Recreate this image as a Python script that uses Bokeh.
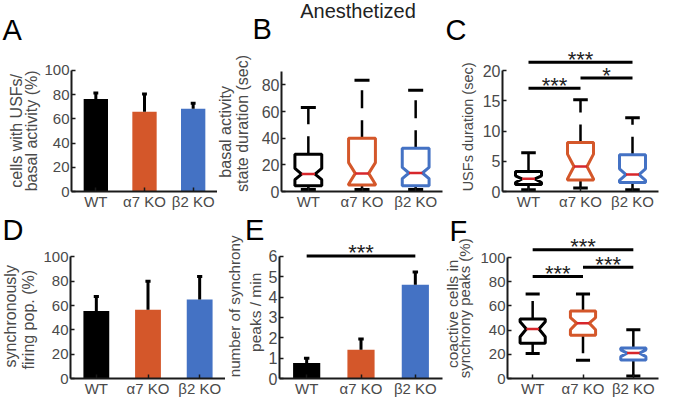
import math
from bokeh.plotting import figure
from bokeh.layouts import column, row
from bokeh.models import FixedTicker, Range1d
from bokeh.embed import file_html
from bokeh.resources import INLINE
from bokeh.core.properties import value

# ---------------- data ----------------
groups = ["WT", "α7 KO", "β2 KO"]
pos = [1, 2, 3]
colors = ["#000000", "#D4572A", "#4472C4"]

# A: cells with USFs / basal activity (%)
a_mean = [76.5, 66.0, 68.3]
a_err = [5.0, 14.5, 4.6]
# D: synchronously firing pop. (%)
d_mean = [55.6, 56.6, 65.0]
d_err = [11.9, 23.4, 19.0]
# E: number of synchrony peaks / min
e_mean = [0.76, 1.41, 4.60]
e_err = [0.24, 0.53, 0.63]

# B: basal activity state duration (sec) box stats
b_lo = [1.5, 1.5, 1.5]
b_q1 = [4.4, 4.9, 4.4]
b_med = [13.1, 13.6, 13.9]
b_q3 = [27.9, 40.0, 32.4]
b_hi = [63.0, 83.5, 76.0]
b_nlo = [8.9, 5.5, 9.7]
b_nhi = [17.3, 21.7, 18.1]

# C: USFs duration (sec) box stats
c_lo = [0.3, 0.6, 0.3]
c_q1 = [1.15, 1.9, 1.5]
c_med = [2.1, 4.15, 2.8]
c_q3 = [3.3, 8.1, 6.1]
c_hi = [6.4, 15.2, 12.2]
c_nlo = [1.5, 2.1, 1.85]
c_nhi = [2.6, 6.2, 3.75]
c_sig_x0 = [1, 2, 1]
c_sig_x1 = [3, 3, 2]
c_sig_y = [21.4, 18.8, 17.1]
c_sig_txt = ["***", "*", "***"]

# F: coactive cells in synchrony peaks (%) box stats
f_lo = [20.7, 15.0, 2.0]
f_q1 = [29.2, 35.7, 15.3]
f_med = [40.9, 45.8, 21.0]
f_q3 = [49.3, 55.9, 25.3]
f_hi = [70.0, 70.0, 40.3]
f_nlo = [34.6, 40.3, 18.1]
f_nhi = [46.9, 50.4, 23.7]
f_sig_x0 = [1, 2, 1]
f_sig_x1 = [3, 3, 2]
f_sig_y = [106.5, 92.1, 84.5]
f_sig_txt = ["***", "***", "***"]

# E significance
e_sig_x0 = [1]
e_sig_x1 = [3]
e_sig_y = [6.02]
e_sig_txt = ["***"]

# texts
title_txt = "Anesthetized"
letters_top = ["A", "B", "C"]

FONT = "Liberation Sans"
AX = "#1a1a1a"
TXT = "#4a4a4a"
SHIFT = 0.42  # observed baseline drop (in em) of "alphabetic" anchored text


def base_fig(width, height, **kw):
    p = figure(width=width, height=height, output_backend="svg", toolbar_location=None, **kw)
    p.outline_line_color = None
    p.background_fill_color = "white"
    p.border_fill_color = "white"
    return p


def make_fig(width, height, left, right, top, bottom, ymax, yticks, ybound, ytick_size="16px"):
    p = base_fig(width, height, x_range=Range1d(0.5, 3.5), y_range=Range1d(0, ymax),
                 min_border_left=left, min_border_right=right,
                 min_border_top=top, min_border_bottom=bottom)
    p.grid.visible = False
    p.xaxis.ticker = FixedTicker(ticks=pos)
    p.xaxis.major_label_overrides = {k: g for k, g in zip(pos, groups)}
    p.yaxis.ticker = FixedTicker(ticks=yticks)
    p.yaxis.bounds = ybound
    for ax in (p.xaxis[0], p.yaxis[0]):
        ax.axis_line_width = 2
        ax.axis_line_color = AX
        ax.major_tick_in = 4
        ax.major_tick_out = 0
        ax.major_tick_line_color = AX
        ax.major_tick_line_width = 1.5
        ax.minor_tick_line_color = None
        ax.major_label_text_font = FONT
        ax.major_label_text_color = TXT
    p.xaxis.major_label_text_font_size = "15px"
    p.xaxis.major_label_standoff = 1
    p.yaxis.major_label_text_font_size = ytick_size
    p.yaxis.major_label_standoff = 2
    return p


def text_fig(w, h, bottom=0):
    # frame covers rows 0..(h-bottom) of the canvas; y measured downward from its top
    return base_fig(w, h, x_range=Range1d(0, w), y_range=Range1d(h - bottom, 0),
                    x_axis_type=None, y_axis_type=None, min_border_left=0,
                    min_border_right=0, min_border_top=0, min_border_bottom=bottom)


def ylabels(p, xs, ys, texts, sizes):
    p.text(x=[x - SHIFT * s for x, s in zip(xs, sizes)], y=ys, text=texts, angle=math.pi / 2,
           text_align="center", text_baseline="alphabetic", text_font=value(FONT),
           text_font_size=[f"{s}px" for s in sizes], text_color=TXT)


def letters(p, xs, ys, texts, size=29, color="#000000", align="left"):
    p.text(x=xs, y=[y - SHIFT * size for y in ys], text=texts, text_baseline="alphabetic",
           text_align=align, text_font=value(FONT), text_font_size=value(f"{size}px"),
           text_color=color)


def bars(p, mean, err):
    p.vbar(x=pos, top=mean, width=0.5, fill_color=colors, line_color=None)
    tops = [m + e for m, e in zip(mean, err)]
    p.segment(x0=pos, y0=mean, x1=pos, y1=tops, line_color="black", line_width=3)
    p.segment(x0=[c - 0.05 for c in pos], y0=tops, x1=[c + 0.05 for c in pos], y1=tops,
              line_color="black", line_width=3)


def boxes(p, lo, q1, med, q3, hi, nlo, nhi):
    w, nw, cw = 0.25, 0.125, 0.14
    xs, ys = [], []
    for c, a, m, b, n1, n2 in zip(pos, q1, med, q3, nlo, nhi):
        xs.append([c - w, c - w, c - nw, c - w, c - w, c + w, c + w, c + nw, c + w, c + w])
        ys.append([a, n1, m, n2, b, b, n2, m, n1, a])
    p.segment(x0=pos, y0=q3, x1=pos, y1=hi, line_color="black", line_width=2.5, line_dash="18 12")
    p.segment(x0=pos, y0=q1, x1=pos, y1=lo, line_color="black", line_width=2.5, line_dash="18 12")
    for ends in (hi, lo):
        p.segment(x0=[c - cw for c in pos], y0=ends, x1=[c + cw for c in pos], y1=ends,
                  line_color="black", line_width=3)
    p.patches(xs, ys, fill_alpha=0, line_color=colors, line_width=3)
    p.segment(x0=[c - nw for c in pos], y0=med, x1=[c + nw for c in pos], y1=med,
              line_color="#D7262B", line_width=2.5)


def sig(p, x0, x1, y, txt):
    p.segment(x0=x0, y0=y, x1=x1, y1=y, line_color="black", line_width=3)
    p.text(x=[(a + b) / 2 for a, b in zip(x0, x1)], y=y, text=txt, text_align="center",
           text_baseline="middle", y_offset=-3, text_font=value(FONT),
           text_font_size=value("22px"), text_color="#222222")


# ---------------- top strip (letters + title) ----------------
s1 = text_fig(661, 48)
letters(s1, [2, 252, 445], [41.5, 41, 41.5], letters_top)
letters(s1, [357.5], [19], [title_txt], size=20, color="#222222", align="center")

# ---------------- top row (y 48..212, frames 48..193) ----------------
H1, B1 = 164, 19
lA = text_fig(41, H1, B1)
ylabels(lA, [23, 37.5], [83.5, 83.5], ["cells with USFs/", "basal activity (%)"], [16, 16])
pA = make_fig(176, H1, 27, 0, 0, B1, 145 / 1.227, [0, 20, 40, 60, 80, 100], (0, 100), "15px")
bars(pA, a_mean, a_err)

lB = text_fig(41, H1, B1)
ylabels(lB, [14.6, 31.4], [84.5, 76], ["basal activity", "state duration (sec)"], [16, 16])
pB = make_fig(188, H1, 21, 4, 0, B1, 145 / 1.35, [0, 20, 40, 60, 80], (0, 90))
boxes(pB, b_lo, b_q1, b_med, b_q3, b_hi, b_nlo, b_nhi)

lC = text_fig(33, H1, B1)
ylabels(lC, [28], [79.5], ["USFs duration (sec)"], [14.5])
pC = make_fig(182, H1, 21, 3, 0, B1, 145 / 6.12, [0, 5, 10, 15, 20], (0, 20))
sig(pC, c_sig_x0, c_sig_x1, c_sig_y, c_sig_txt)
boxes(pC, c_lo, c_q1, c_med, c_q3, c_hi, c_nlo, c_nhi)

# ---------------- bottom row (y 212..399, frames 212..380) ----------------
H2, B2 = 187, 19
lD = text_fig(40, H2, B2)
letters(lD, [2], [29.7], ["D"])
ylabels(lD, [16.6, 34.6], [105, 108.5], ["synchronously", "firing pop. (%)"], [16, 16])
pD = make_fig(185, H2, 27, 0, 0, B2, 168 / 1.23, [0, 20, 40, 60, 80, 100], (0, 100), "15px")
bars(pD, d_mean, d_err)

lE = text_fig(40, H2, B2)
letters(lE, [19.5], [29.7], ["E"])
ylabels(lE, [15, 36.3], [95, 101], ["number of synchrony", "peaks / min"], [15.2, 15.5])
pE = make_fig(179, H2, 12, 2, 0, B2, 168 / 20.6, [0, 1, 2, 3, 4, 5, 6], (0, 6))
sig(pE, e_sig_x0, e_sig_x1, e_sig_y, e_sig_txt)
bars(pE, e_mean, e_err)

lF = text_fig(33, H2, B2)
letters(lF, [5], [31.3], ["F"])
ylabels(lF, [15, 26.6], [102.5, 97], ["coactive cells in", "synchrony peaks (%)"], [15.5, 15])
pF = make_fig(184, H2, 27, 3, 0, B2, 168 / 1.223, [0, 20, 40, 60, 80, 100], (0, 100), "15px")
sig(pF, f_sig_x0, f_sig_x1, f_sig_y, f_sig_txt)
boxes(pF, f_lo, f_q1, f_med, f_q3, f_hi, f_nlo, f_nhi)

layout = column(s1, row(lA, pA, lB, pB, lC, pC), row(lD, pD, lE, pE, lF, pF))
open("out.html", "w").write(file_html(layout, INLINE))
